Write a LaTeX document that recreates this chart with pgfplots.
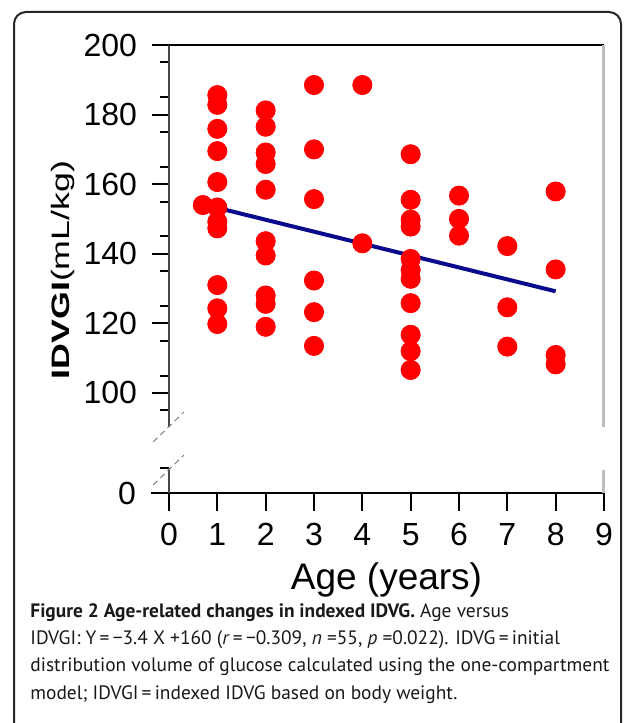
\documentclass[border=0pt]{standalone}
\usepackage{pgfplots}
\pgfplotsset{compat=1.18}
\usepackage{fontspec}
\setmainfont{Liberation Sans}
\newfontfamily\capfont{PT Sans}
\definecolor{dotred}{RGB}{255,0,0}
\definecolor{fitblue}{RGB}{10,10,140}
\definecolor{axgray}{RGB}{70,70,70}
\definecolor{rimgray}{RGB}{190,190,190}
\begin{document}
\begin{tikzpicture}
\useasboundingbox (0,0) rectangle (316.5pt,361.5pt);
% frame round figure and caption
\draw[line width=1pt, black!85, rounded corners=6pt] (7pt,-10pt) -- (7pt,355.5pt) -- (310.5pt,355.5pt) -- (310.5pt,-10pt);
\pgfplotsset{every axis/.append style={
  scale only axis, width=217.5pt, xmin=0, xmax=9,
  tick align=outside, major tick length=8.5pt, minor tick length=4.5pt,
  tick style={black, line width=1pt},
  tick label style={font=\fontsize{16}{16}\selectfont},
  yticklabel style={xshift=-4pt},
  /pgf/number format/assume math mode=true,
  axis line style={axgray, line width=1pt},
  clip=false}}
% upper part 90--200
\begin{axis}[at={(84.5pt,148pt)}, anchor=south west, height=191pt,
  ymin=90.2, ymax=200, axis x line=none, axis y line*=left,
  ytick={100,120,...,200}, minor ytick={95,105,...,195},
  ylabel={\scalebox{1.42}[1]{\textbf{IDVGI}(mL/kg)}},
  ylabel style={font=\fontsize{12.6}{12.6}\selectfont, at={(axis description cs:0,0.411)}, anchor=center, yshift=53.25pt}]
\draw[black, line width=1pt] (axis cs:0,200) -- (axis cs:9,200);
\draw[rimgray, line width=1.5pt] (axis cs:9,90.2) -- (axis cs:9,200);
\addplot[fitblue, line width=2pt, no marks] coordinates {(1,153.2) (8,129.2)};
\addplot[only marks, mark=*, color=dotred, mark size=4.8pt, mark options={draw=dotred, fill=dotred}] coordinates {
 (0.7,154.0)
 (1,185.6) (1,182.8) (1,175.9) (1,169.5) (1,160.6) (1,153.3) (1,149.2) (1,147.3) (1,131.0) (1,124.3) (1,119.8)
 (2,181.2) (2,176.5) (2,169.1) (2,165.8) (2,158.4) (2,143.6) (2,139.5) (2,128.0) (2,125.6) (2,119.0)
 (3,188.5) (3,170.0) (3,155.7) (3,132.3) (3,123.2) (3,113.5)
 (4,188.5) (4,143.0)
 (5,168.6) (5,155.5) (5,149.8) (5,147.8) (5,138.5) (5,135.3) (5,132.8) (5,125.8) (5,116.7) (5,112.0) (5,106.6)
 (6,156.7) (6,150.0) (6,145.2)
 (7,142.2) (7,124.6) (7,113.3)
 (8,157.9) (8,135.5) (8,110.9) (8,108.2)
};
\end{axis}
% lower part 0--7
\begin{axis}[at={(84.5pt,115pt)}, anchor=south west, height=12.5pt,
  ymin=0, ymax=7, axis x line*=bottom, axis y line*=left,
  x axis line style={black},
  xtick={0,...,9}, ytick={0}, minor ytick={7},
  major tick length=9pt,
  xticklabel style={yshift=-2.5pt},
  xlabel={Age (years)},
  xlabel style={font=\fontsize{18.5}{18.5}\selectfont, at={(axis description cs:0.5,0)}, anchor=center, yshift=-43.5pt}]
\draw[rimgray, line width=1.5pt] (axis cs:9,0) -- (axis cs:9,6.4);
\end{axis}
% break marks
\draw[gray, densely dashed, line width=0.5pt] (76.5pt,140.5pt) -- (92pt,155.5pt);
\draw[gray, densely dashed, line width=0.5pt] (76.5pt,119pt) -- (92pt,134pt);
% caption
\begin{scope}[every node/.style={anchor=base west, inner sep=0pt, font=\capfont\fontsize{9.7}{13.5}\selectfont, text=black!90}]
\node at (15pt,52.5pt) {\textbf{Figure 2 Age-related changes in indexed IDVG.} Age versus};
\node at (15pt,39pt) {IDVGI: Y\,=\,−3.4 X +160 (\textit{r}\,=\,−0.309, \textit{n} =55, \textit{p} =0.022). IDVG\,=\,initial};
\node at (15pt,25.5pt) {distribution volume of glucose calculated using the one-compartment};
\node at (15pt,12pt) {model; IDVGI\,=\,indexed IDVG based on body weight.};
\end{scope}
\end{tikzpicture}
\end{document}
